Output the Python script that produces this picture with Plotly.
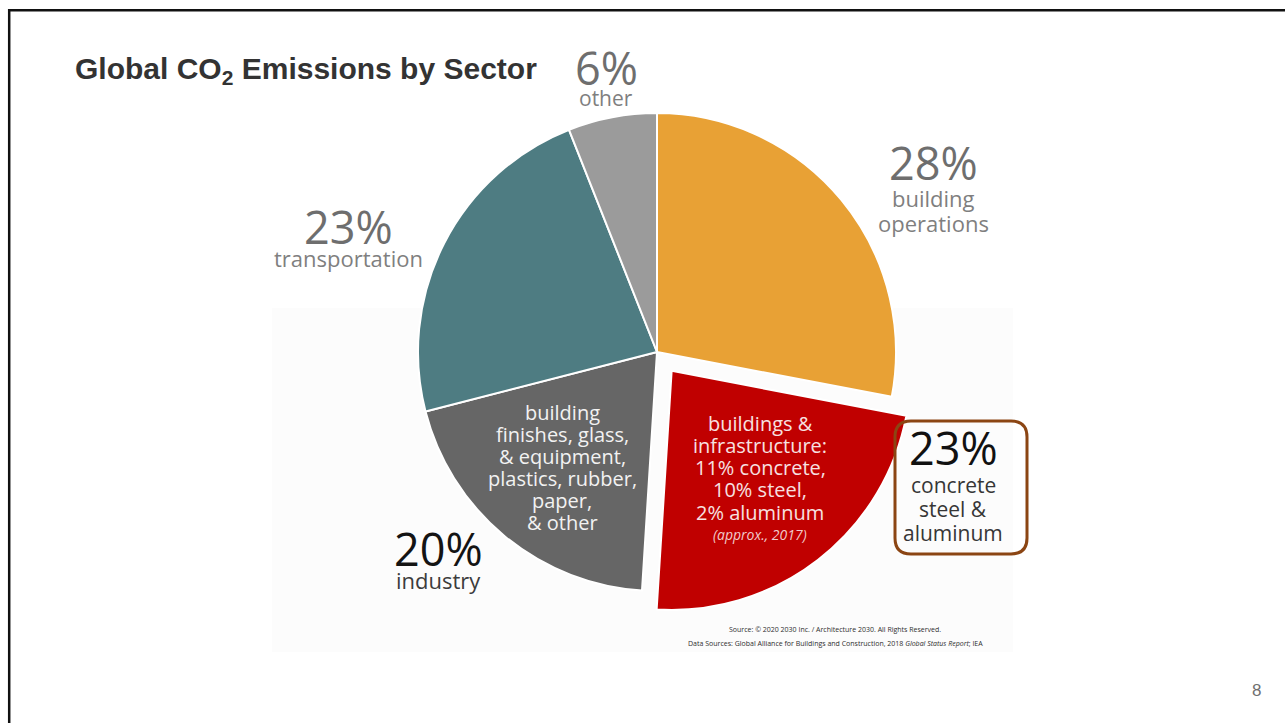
import plotly.graph_objects as go

# Sector shares of global CO2 emissions (%), clockwise from 12 o'clock
sectors = ["building operations", "concrete, steel & aluminum", "industry", "transportation", "other"]
shares = [28, 23, 20, 23, 6]
slice_colors = ["#E8A135", "#C00000", "#666666", "#4E7C82", "#9B9B9B"]
pulls = [0, 0.1, 0, 0, 0]

# Text blocks
finishes_lines = ["building", "finishes, glass,", "& equipment,", "plastics, rubber,", "paper,", "& other"]
materials_lines = ["buildings &", "infrastructure:", "11% concrete,", "10% steel,", "2% aluminum"]
materials_note = "(approx., 2017)"
box_lines = ["concrete", "steel &", "aluminum"]
source_lines = [
    "Source: © 2020 2030 Inc. / Architecture 2030. All Rights Reserved.",
    "Data Sources: Global Alliance for Buildings and Construction, 2018 <i>Global Status Report</i>; IEA",
]

W, H = 1285, 723


def px(x):
    return x / W


def py(y):
    return 1 - y / H


# Pie placement (pixel centre and radius of the unpulled disc)
cx, cy, r = 657, 352, 239
half = r * (1 + max(pulls))

fig = go.Figure()
fig.add_trace(go.Pie(
    labels=sectors,
    values=shares,
    sort=False,
    direction="clockwise",
    rotation=0,
    pull=pulls,
    marker=dict(colors=slice_colors, line=dict(color="white", width=2)),
    textinfo="none",
    hoverinfo="label+percent",
    showlegend=False,
    domain=dict(x=[px(cx - half), px(cx + half)], y=[py(cy + half), py(cy - half)]),
))

annotations = []


def label(text, x, y, size, color, family="Open Sans", **kw):
    annotations.append(dict(
        text=text, x=px(x), y=py(y), xref="paper", yref="paper",
        xanchor=kw.pop("xanchor", "center"), yanchor="middle", showarrow=False,
        font=dict(family=family, size=size, color=color), **kw,
    ))


# Title
label("Global CO<sub>2</sub> Emissions by Sector", 73, 71, 30, "#333333",
      family="Liberation Sans, Arial", xanchor="left")
annotations[-1]["font"]["weight"] = "bold"

# Outside sector labels
label("6%", 606, 67, 45, "#6e6e6e")
label("other", 606, 98, 21, "#7f7f7f")
label("28%", 933, 163, 45, "#6e6e6e")
label("building", 933, 198, 22, "#7f7f7f")
label("operations", 933, 223, 22, "#7f7f7f")
label("23%", 348, 226, 45, "#6e6e6e")
label("transportation", 348, 258, 22, "#7f7f7f")
label("20%", 438, 548, 45, "#141414")
label("industry", 438, 580, 22, "#3c3c3c")

# Text inside the industry slice
for i, line in enumerate(finishes_lines):
    label(line, 562, 412 + 22 * i, 20, "#f2f2f2")

# Text inside the pulled materials slice
for i, line in enumerate(materials_lines):
    label(line, 760, 423 + 22.3 * i, 20, "#f7e1e1")
label("<i>" + materials_note + "</i>", 760, 534, 14, "#f0caca")

# Highlight box
label("23%", 953, 447, 45, "#111111")
for i, line in enumerate(box_lines):
    label(line, 953, 485 + 24 * i, 21, "#363636")

# Source lines
label(source_lines[0], 835, 629, 7, "#2e2e2e", family="Open Sans")
label(source_lines[1], 835, 643, 7, "#2e2e2e", family="Open Sans")

# Page number
label("8", 1256, 690, 17, "#707070", family="Liberation Sans, Arial")

# Rounded highlight box outline
bx0, bx1, by0, by1, rad = 895, 1027, 421, 554, 16


def rounded_path(x0, x1, y0, y1, rr):
    p = lambda x, y: f"{px(x)},{py(y)}"
    return (
        f"M {p(x0 + rr, y0)} L {p(x1 - rr, y0)} Q {p(x1, y0)} {p(x1, y0 + rr)} "
        f"L {p(x1, y1 - rr)} Q {p(x1, y1)} {p(x1 - rr, y1)} "
        f"L {p(x0 + rr, y1)} Q {p(x0, y1)} {p(x0, y1 - rr)} "
        f"L {p(x0, y0 + rr)} Q {p(x0, y0)} {p(x0 + rr, y0)} Z"
    )


shapes = [
    # faint backdrop behind the pie graphic
    dict(type="rect", xref="paper", yref="paper", layer="below",
         x0=px(272), x1=px(1013), y0=py(652), y1=py(308),
         fillcolor="#fcfcfc", line=dict(width=0)),
    # slide frame
    dict(type="rect", xref="paper", yref="paper",
         x0=px(9.2), x1=px(1300), y0=py(740), y1=py(10.3),
         line=dict(color="#111111", width=2.5)),
    dict(type="path", xref="paper", yref="paper", path=rounded_path(bx0, bx1, by0, by1, rad),
         line=dict(color="#8B4513", width=3)),
]

fig.update_layout(
    width=W, height=H,
    margin=dict(l=0, r=0, t=0, b=0),
    paper_bgcolor="white",
    plot_bgcolor="white",
    annotations=annotations,
    shapes=shapes,
)

fig.write_html("out.html")
